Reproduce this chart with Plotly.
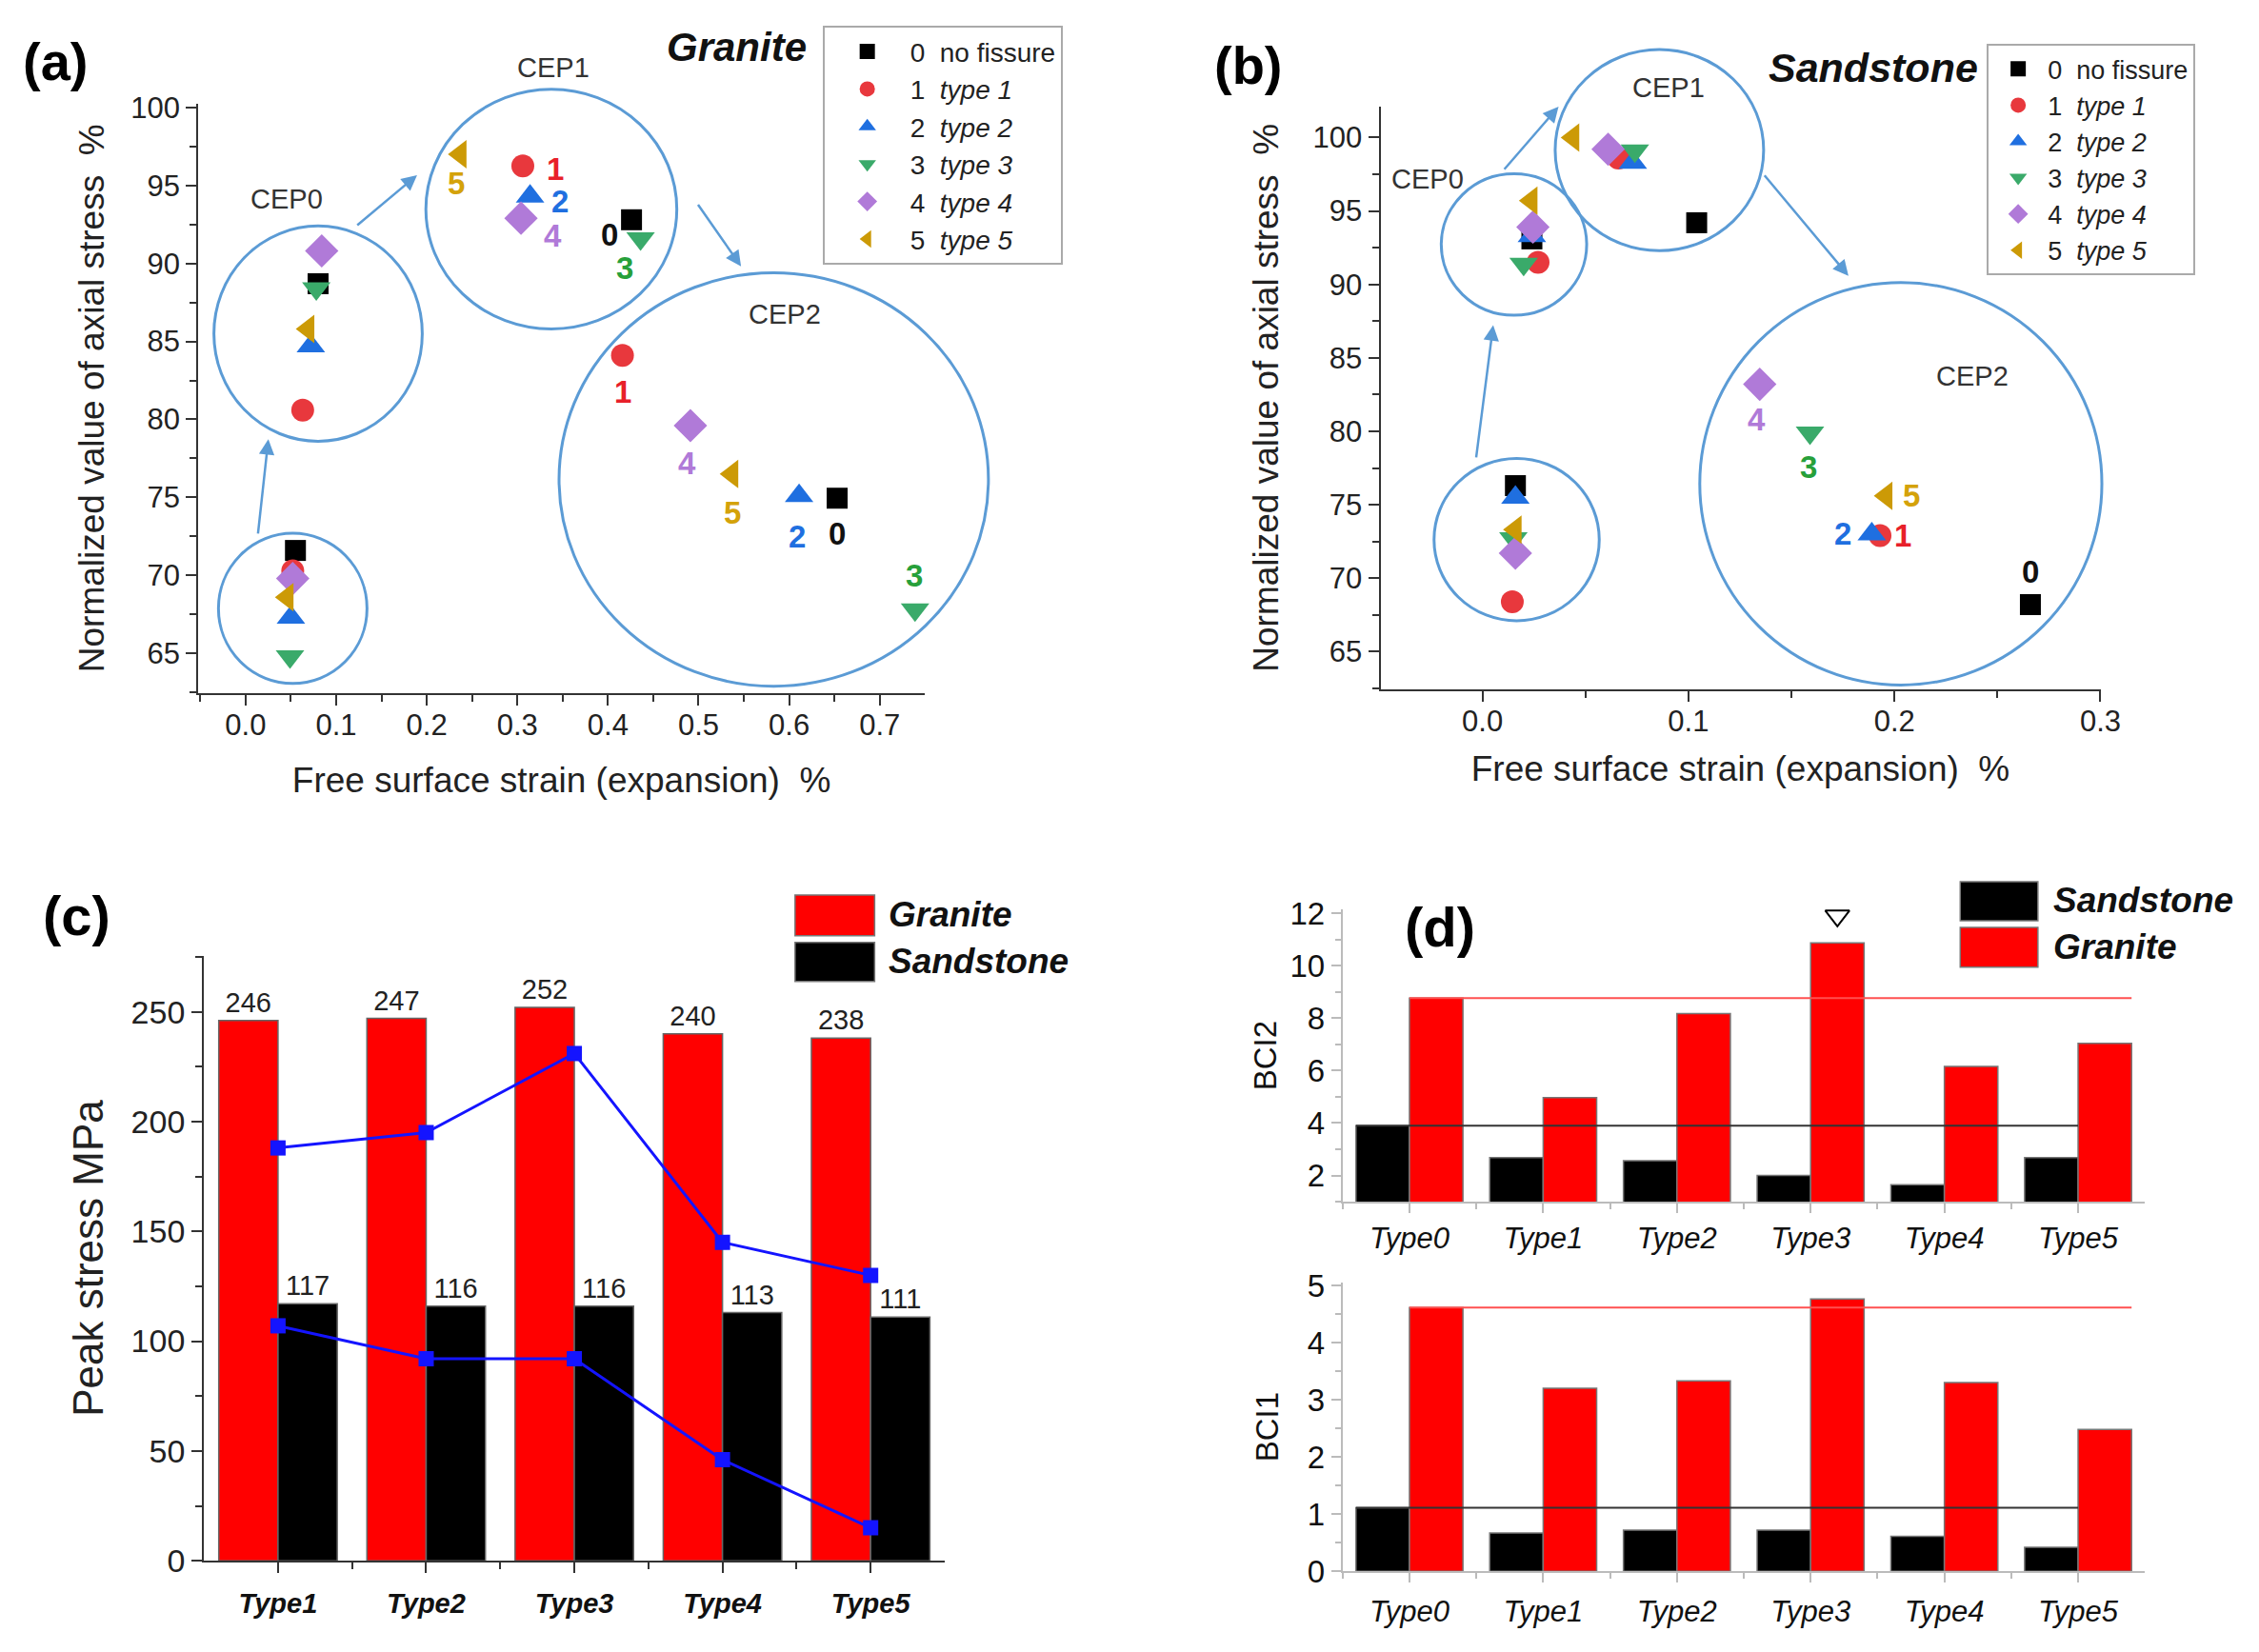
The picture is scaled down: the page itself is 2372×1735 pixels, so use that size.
import plotly.graph_objects as go

W, H = 2372, 1735
FONT = "Liberation Sans, Arial, Helvetica, sans-serif"

# ---------------- data: panel (a) Granite (stages: initial, CEP0, CEP1, CEP2)
stage_names = ["initial", "CEP0", "CEP1", "CEP2"]
type_codes = ["0", "1", "2", "3", "4", "5"]
type_labels = ["no fissure", "type 1", "type 2", "type 3", "type 4", "type 5"]

granite_t0_x = [0.055, 0.080, 0.426, 0.653]
granite_t0_y = [71.6, 88.7, 92.8, 74.95]
granite_t1_x = [0.052, 0.063, 0.306, 0.416]
granite_t1_y = [70.3, 80.6, 96.25, 84.1]
granite_t2_x = [0.050, 0.072, 0.314, 0.611]
granite_t2_y = [67.3, 84.7, 94.3, 75.1]
granite_t3_x = [0.049, 0.078, 0.436, 0.739]
granite_t3_y = [64.8, 88.4, 91.6, 67.8]
granite_t4_x = [0.052, 0.084, 0.304, 0.491]
granite_t4_y = [69.8, 90.8, 92.9, 79.6]
granite_t5_x = [0.046, 0.069, 0.237, 0.537]
granite_t5_y = [68.6, 85.8, 97.0, 76.5]

# ---------------- data: panel (b) Sandstone
sand_t0_x = [0.016, 0.024, 0.104, 0.266]
sand_t0_y = [76.3, 93.1, 94.2, 68.2]
sand_t1_x = [0.0145, 0.027, 0.066, 0.193]
sand_t1_y = [68.4, 91.5, 98.6, 72.9]
sand_t2_x = [0.016, 0.024, 0.073, 0.189]
sand_t2_y = [75.5, 93.3, 98.3, 73.0]
sand_t3_x = [0.015, 0.020, 0.074, 0.159]
sand_t3_y = [72.7, 91.4, 99.1, 79.9]
sand_t4_x = [0.016, 0.0245, 0.061, 0.1346]
sand_t4_y = [71.7, 93.9, 99.2, 83.2]
sand_t5_x = [0.016, 0.0237, 0.044, 0.196]
sand_t5_y = [73.3, 95.7, 100.0, 75.6]

# ---------------- data: panel (c) peak stress
peak_types = ["Type1", "Type2", "Type3", "Type4", "Type5"]
peak_granite = [246, 247, 252, 240, 238]
peak_sandstone = [117, 116, 116, 113, 111]
line_upper = [188, 195, 231, 145, 130]
line_lower = [107, 92, 92, 46, 15]

# ---------------- data: panel (d) BCI
bci_types = ["Type0", "Type1", "Type2", "Type3", "Type4", "Type5"]
bci2_sandstone = [3.9, 2.68, 2.57, 2.0, 1.65, 2.68]
bci2_granite = [8.76, 4.97, 8.17, 10.87, 6.16, 7.04]
bci1_sandstone = [1.11, 0.67, 0.72, 0.72, 0.61, 0.42]
bci1_granite = [4.61, 3.2, 3.33, 4.76, 3.3, 2.48]
flag_type = "Type3"
bci2_flag_y = 11.9
bci1_flag_y = 5.16

granite_xs = [granite_t0_x, granite_t1_x, granite_t2_x, granite_t3_x, granite_t4_x, granite_t5_x]
granite_ys = [granite_t0_y, granite_t1_y, granite_t2_y, granite_t3_y, granite_t4_y, granite_t5_y]
sand_xs = [sand_t0_x, sand_t1_x, sand_t2_x, sand_t3_x, sand_t4_x, sand_t5_x]
sand_ys = [sand_t0_y, sand_t1_y, sand_t2_y, sand_t3_y, sand_t4_y, sand_t5_y]

# ---------------- styles
marker_colors = ["#000000", "#e8383d", "#1f6fe0", "#3aaa6a", "#b07ad8", "#cc9a06"]
label_colors = ["#111111", "#e8202a", "#1f6fe0", "#27a03a", "#b07ad8", "#d4a20a"]
symbols = ["square", "circle", "triangle-up", "triangle-down", "diamond", "triangle-left"]
msizes = [22, 24, 26, 26, 27, 26]
CIRC = "#5b9bd5"
RED = "#ff0000"


# layout pixel positions -> paper (with small global calibration)
def gx(px):
    return px * 1.004 + 5.3


def gy(py):
    return 858 + (py - 858) * 1.0174


def fx(px):
    return gx(px) / W


def fy(py):
    return 1 - gy(py) / H


# axis geometry (domains from pixel boxes, ranges in data)
A_XR, A_YR = [-0.0523, 0.7498], [62.48, 100.23]
A_XD, A_YD = [fx(204), fx(971)], [fy(729), fy(109)]
B_XR, B_YR = [-0.0495, 0.3], [62.46, 102.1]
B_XD, B_YD = [fx(1452), fx(2212)], [fy(725), fy(112)]
C_XD, C_YD = [fx(210), fx(992)], [fy(1643), fy(1006)]
D_XD = [fx(1412), fx(2259)]
D1_YD, D2_YD = [fy(1265), fy(957)], [fy(1654), fy(1350)]


def to_px(v, rng, dom):
    return dom[0] + (v - rng[0]) / (rng[1] - rng[0]) * (dom[1] - dom[0])


fig = go.Figure()

# ---------- panels (a) and (b): scatter traces
for i in range(6):
    name = type_codes[i] + "\u00a0\u00a0" + (type_labels[i] if i == 0 else "<i>" + type_labels[i] + "</i>")
    fig.add_trace(go.Scatter(
        x=granite_xs[i], y=granite_ys[i], mode="markers", name=name,
        marker=dict(symbol=symbols[i], size=msizes[i], color=marker_colors[i], line=dict(width=0)),
        xaxis="x", yaxis="y", legend="legend", cliponaxis=False))
for i in range(6):
    name = type_codes[i] + "\u00a0\u00a0" + (type_labels[i] if i == 0 else "<i>" + type_labels[i] + "</i>")
    fig.add_trace(go.Scatter(
        x=sand_xs[i], y=sand_ys[i], mode="markers", name=name,
        marker=dict(symbol=symbols[i], size=msizes[i], color=marker_colors[i], line=dict(width=0)),
        xaxis="x2", yaxis="y2", legend="legend2", cliponaxis=False))

# ---------- panel (c)
cx = list(range(len(peak_types)))
fig.add_trace(go.Bar(x=cx, y=peak_granite, marker=dict(color=RED, line=dict(color="#666", width=1.5)),
                     text=peak_granite, textposition="outside", constraintext="none", cliponaxis=False,
                     textfont=dict(family=FONT, size=29, color="#222"),
                     xaxis="x3", yaxis="y3", showlegend=False))
fig.add_trace(go.Bar(x=cx, y=peak_sandstone, marker=dict(color="#000", line=dict(color="#666", width=1.5)),
                     text=peak_sandstone, textposition="outside", constraintext="none", cliponaxis=False,
                     textfont=dict(family=FONT, size=29, color="#222"),
                     xaxis="x3", yaxis="y3", showlegend=False))
for ln in (line_upper, line_lower):
    fig.add_trace(go.Scatter(x=cx, y=ln, mode="lines+markers",
                             line=dict(color="#1414ff", width=3),
                             marker=dict(symbol="square", size=16, color="#1414ff"),
                             xaxis="x3", yaxis="y3", showlegend=False))

# ---------- panel (d)
dx = list(range(len(bci_types)))
BW = 0.4
flag_i = bci_types.index(flag_type)
for (sand, gran, xa, ya, fy_) in ((bci2_sandstone, bci2_granite, "x4", "y4", bci2_flag_y),
                                  (bci1_sandstone, bci1_granite, "x5", "y5", bci1_flag_y)):
    fig.add_trace(go.Bar(x=dx, y=sand, marker=dict(color="#000", line=dict(color="#777", width=1.5)),
                         xaxis=xa, yaxis=ya, showlegend=False))
    fig.add_trace(go.Bar(x=dx, y=gran, marker=dict(color=RED, line=dict(color="#777", width=1.5)),
                         xaxis=xa, yaxis=ya, showlegend=False))
    fig.add_trace(go.Scatter(x=[dx[0] - BW, dx[-1]], y=[sand[0], sand[0]], mode="lines",
                             line=dict(color="#333", width=2), xaxis=xa, yaxis=ya, showlegend=False))
    fig.add_trace(go.Scatter(x=[dx[0], dx[-1] + BW], y=[gran[0], gran[0]], mode="lines",
                             line=dict(color="#ff5050", width=2), xaxis=xa, yaxis=ya, showlegend=False))
    fig.add_trace(go.Scatter(x=[dx[flag_i] + BW / 2], y=[fy_], mode="markers", cliponaxis=False,
                             marker=dict(symbol="triangle-down-open", size=22, color="#000",
                                         line=dict(width=2, color="#000")),
                             xaxis=xa, yaxis=ya, showlegend=False))


# ---------- axes
def axis(**kw):
    base = dict(showline=True, linecolor="#333", linewidth=2, ticks="outside", ticklen=11, tickwidth=2,
                tickcolor="#333", showgrid=False, zeroline=False, mirror=False,
                tickfont=dict(family=FONT, size=31, color="#222"),
                title_font=dict(family=FONT, size=37, color="#222"))
    base.update(kw)
    return base


minor_a = dict(ticks="outside", ticklen=7, tickwidth=2, tickcolor="#333")
layout = dict(
    xaxis=axis(domain=A_XD, anchor="y", range=A_XR, tickvals=[0, .1, .2, .3, .4, .5, .6, .7], tickformat=".1f",
               minor=dict(dtick=0.05, tick0=0, **minor_a),
               title=dict(text="Free surface strain (expansion)\u00a0\u00a0%", standoff=28)),
    yaxis=axis(domain=A_YD, anchor="x", range=A_YR, dtick=5, tick0=0,
               minor=dict(dtick=2.5, tick0=0, **minor_a),
               title=dict(text="Normalized value of axial stress\u00a0\u00a0%", standoff=16)),
    xaxis2=axis(domain=B_XD, anchor="y2", range=B_XR, tickvals=[0, .1, .2, .3], tickformat=".1f",
                minor=dict(dtick=0.05, tick0=0, **minor_a),
                title=dict(text="Free surface strain (expansion)\u00a0\u00a0%", standoff=20)),
    yaxis2=axis(domain=B_YD, anchor="x2", range=B_YR, dtick=5, tick0=0,
                minor=dict(dtick=2.5, tick0=0, **minor_a),
                title=dict(text="Normalized value of axial stress\u00a0\u00a0%", standoff=25)),
    xaxis3=axis(domain=C_XD, anchor="y3", range=[-0.5, len(peak_types) - 0.5], tickmode="array",
                tickvals=cx, ticktext=peak_types,
                tickfont=dict(family=FONT, size=29, color="#111", weight="bold", style="italic"),
                minor=dict(tickmode="array", tickvals=[v + 0.5 for v in cx[:-1]], **minor_a)),
    yaxis3=axis(domain=C_YD, anchor="x3", range=[0, 275.5], dtick=50, tick0=0,
                tickfont=dict(family=FONT, size=34, color="#222"),
                minor=dict(dtick=25, tick0=0, **minor_a),
                title=dict(text="Peak stress MPa", standoff=15, font=dict(family=FONT, size=44, color="#222"))),
)
d_axis_common = dict(linecolor="#bbb", tickcolor="#bbb", ticklen=10)
d_minor = dict(ticks="outside", ticklen=6, tickwidth=2, tickcolor="#bbb")
for xa, ya, ydom, yrng, ydt, ymin, ytitle, stand in (("xaxis4", "yaxis4", D1_YD, [1, 12.15], 2, 1, "BCI2", 4),
                                                     ("xaxis5", "yaxis5", D2_YD, [0, 5.05], 1, 0.5, "BCI1", 20)):
    n = xa[-1]
    layout[xa] = axis(domain=D_XD, anchor="y" + n, range=[-0.5, len(bci_types) - 0.5], tickmode="array",
                      tickvals=dx, ticktext=bci_types,
                      tickfont=dict(family=FONT, size=31, color="#111", style="italic"),
                      minor=dict(tickmode="array", tickvals=[v + 0.5 for v in dx[:-1]] + [-0.5], **d_minor),
                      **d_axis_common)
    layout[ya] = axis(domain=ydom, anchor="x" + n, range=yrng, dtick=ydt, tick0=0,
                      tickfont=dict(family=FONT, size=33, color="#111"),
                      minor=dict(dtick=ymin, tick0=0, **d_minor),
                      title=dict(text=ytitle, standoff=stand, font=dict(family=FONT, size=33, color="#111")),
                      **d_axis_common)

legend_common = dict(bgcolor="white", bordercolor="#aaa", borderwidth=2, xanchor="left", yanchor="top",
                     tracegroupgap=0)
layout["legend"] = dict(x=fx(863), y=fy(27), itemwidth=80,
                        font=dict(family=FONT, size=28, color="#222"), **legend_common)
layout["legend2"] = dict(x=fx(2092), y=fy(46), itemwidth=52,
                         font=dict(family=FONT, size=27, color="#222"), **legend_common)

fig.update_layout(width=W, height=H, autosize=False, margin=dict(l=0, r=0, t=0, b=0),
                  paper_bgcolor="white", plot_bgcolor="white", barmode="group", bargap=0.2, bargroupgap=0,
                  font=dict(family=FONT), **layout)

# tick label distances
try:
    fig.update_layout(xaxis_ticklabelstandoff=-6, xaxis2_ticklabelstandoff=-6,
                      xaxis3_ticklabelstandoff=7, xaxis5_ticklabelstandoff=4)
except Exception:
    pass

# ---------- circles (ellipses) around clusters
a_circles = [(-0.030, 0.134, 63.07, 72.7), (-0.035, 0.195, 78.6, 92.4),
             (0.199, 0.476, 85.8, 101.16), (0.346, 0.820, 62.9, 89.4)]
b_circles = [(-0.0235, 0.0567, 67.1, 78.15), (-0.020, 0.0506, 87.9, 97.53),
             (0.0353, 0.1365, 92.3, 105.99), (0.1055, 0.3007, 62.72, 90.13)]
shapes = []
for circ, xr, yr, xd, yd in ((a_circles, A_XR, A_YR, A_XD, A_YD), (b_circles, B_XR, B_YR, B_XD, B_YD)):
    for (x0, x1, y0, y1) in circ:
        shapes.append(dict(type="circle", xref="paper", yref="paper",
                           x0=to_px(x0, xr, xd), x1=to_px(x1, xr, xd),
                           y0=to_px(y0, yr, yd), y1=to_px(y1, yr, yd),
                           line=dict(color=CIRC, width=3)))

# legends for (c) and (d): colour boxes
for (x0, x1, y0, y1, col) in ((834, 918, 942, 985, RED), (834, 918, 992, 1033, "#000"),
                              (2064, 2146, 928, 969, "#000"), (2064, 2146, 976, 1018, RED)):
    shapes.append(dict(type="rect", xref="paper", yref="paper", x0=fx(x0), x1=fx(x1), y0=fy(y1), y1=fy(y0),
                       fillcolor=col, line=dict(color="#777", width=1.5)))
fig.update_layout(shapes=shapes)

ann = []


def text(px, py, s, size, color="#222", bold=False, italic=False, xanchor="center"):
    if italic:
        s = "<i>" + s + "</i>"
    if bold:
        s = "<b>" + s + "</b>"
    ann.append(dict(x=fx(px), y=fy(py), xref="paper", yref="paper", text=s, showarrow=False,
                    xanchor=xanchor, yanchor="middle", font=dict(family=FONT, size=size, color=color)))


text(53, 64, "(a)", 56, "#000", bold=True)
text(1313, 68, "(b)", 56, "#000", bold=True)
text(76, 964, "(c)", 58, "#000", bold=True)
text(1515, 976, "(d)", 58, "#000", bold=True)
text(772, 49, "Granite", 42, "#111", bold=True, italic=True)
text(1972, 71, "Sandstone", 43, "#111", bold=True, italic=True)
for (px, py, s) in ((297, 209, "CEP0"), (579, 71, "CEP1"), (823, 330, "CEP2"),
                    (1502, 188, "CEP0"), (1756, 92, "CEP1"), (2077, 396, "CEP2")):
    text(px, py, s, 29, "#333")
text(931, 963, "Granite", 37, "#111", bold=True, italic=True, xanchor="left")
text(931, 1012, "Sandstone", 37, "#111", bold=True, italic=True, xanchor="left")
text(2160, 948, "Sandstone", 37, "#111", bold=True, italic=True, xanchor="left")
text(2160, 997, "Granite", 37, "#111", bold=True, italic=True, xanchor="left")

# arrows between clusters (start px -> end px)
for (sx, sy, ex, ey) in ((267, 561, 278, 462), (371, 237, 435, 184), (731, 215, 777, 280),
                         (1553, 480, 1571, 342), (1582, 178, 1640, 112), (1857, 185, 1946, 290)):
    ann.append(dict(x=fx(ex), y=fy(ey), xref="paper", yref="paper",
                    ax=gx(sx) - gx(ex), ay=gy(sy) - gy(ey),
                    axref="pixel", ayref="pixel", text="", showarrow=True, arrowhead=2, arrowsize=1.3,
                    arrowwidth=2.5, arrowcolor=CIRC))

# numeric labels next to points (offsets in px)
a_cep1_off = [(-23, -16), (34, -3), (31, -5), (-17, -31), (33, -18), (-4, -31)]
a_cep2_off = [(0, -37), (0, -38), (-2, -43), (-1, 36), (-3, -39), (0, -41)]
b_cep2_off = [(0, 34), (24, 0), (-30, 0), (-2, -36), (-3, -37), (26, 0)]
for i in range(6):
    for (xs, ys, stage, off, xa, ya) in ((granite_xs, granite_ys, 2, a_cep1_off, "x", "y"),
                                        (granite_xs, granite_ys, 3, a_cep2_off, "x", "y"),
                                        (sand_xs, sand_ys, 3, b_cep2_off, "x2", "y2")):
        ann.append(dict(x=xs[i][stage], y=ys[i][stage], xref=xa, yref=ya, text="<b>" + type_codes[i] + "</b>",
                        showarrow=False, xshift=off[i][0], yshift=off[i][1],
                        font=dict(family=FONT, size=33, color=label_colors[i])))

fig.update_layout(annotations=ann)
fig.write_html("out.html", config={"displayModeBar": False},
               post_script="document.body.style.margin='0';document.body.style.overflow='hidden';")
